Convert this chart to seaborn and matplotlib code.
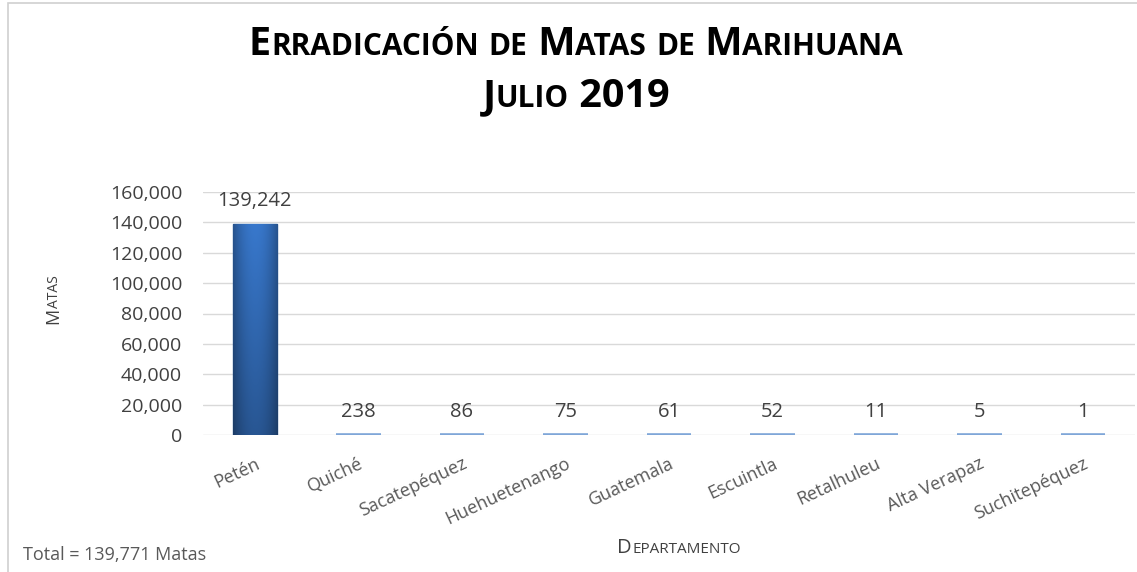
import matplotlib
matplotlib.use('Agg')
import matplotlib.pyplot as plt
from matplotlib.font_manager import FontProperties
from matplotlib.patches import Rectangle
import seaborn as sb
import numpy as np

departamentos = ['Petén', 'Quiché', 'Sacatepéquez', 'Huehuetenango', 'Guatemala',
                 'Escuintla', 'Retalhuleu', 'Alta Verapaz', 'Suchitepéquez']
matas = [139242, 238, 86, 75, 61, 52, 11, 5, 1]
yticks = [0, 20000, 40000, 60000, 80000, 100000, 120000, 140000, 160000]
titulo = ['Erradicación de Matas de Marihuana', 'Julio 2019']
total_txt = 'Total = 139,771 Matas'

FONT = 'Open Sans'
W, H = 1137, 572

sb.set_style('white')
plt.rcParams['font.family'] = [FONT, 'DejaVu Sans']

fig = plt.figure(figsize=(W / 100, H / 100), dpi=100)
ax = fig.add_axes([203 / W, 1 - 435 / H, 932 / W, 243 / H])

sb.barplot(x=departamentos, y=matas, color='#3473BA', width=0.43, ax=ax,
           edgecolor='#7FA6D8', linewidth=2.6, zorder=3)

# gradient fill on the big bar, clipped to the bar
for p in ax.patches:
    x0, y0 = p.get_x(), p.get_y()
    w, h = p.get_width(), p.get_height()
    if h < 1000:
        continue
    p.set_edgecolor('#2A5E9E')
    p.set_linewidth(1)
    gx = np.linspace(-1, 1, 60)
    gy = np.linspace(0, 1, 60)
    horiz = 1 - 0.3 * gx ** 2
    vert = 0.72 + 0.28 * gy
    shade = np.outer(vert, horiz)
    base = np.array([0.22, 0.47, 0.80])
    img = np.clip(shade[..., None] * base[None, None, :], 0, 1)
    im = ax.imshow(img, extent=[x0, x0 + w, y0, y0 + h], origin='lower',
                   aspect='auto', zorder=4)
    im.set_clip_path(p)

for i, v in enumerate(matas):
    ax.annotate(f'{v:,}', (i, v), xytext=(0, 9), textcoords='offset points',
                ha='center', va='bottom', fontsize=14.5, color='#404040',
                annotation_clip=False, zorder=5)

ax.set_xlim(-0.5, len(departamentos) - 0.5)
ax.set_ylim(0, 160000)
ax.set_yticks(yticks)
ax.set_yticklabels([f'{t:,}' for t in yticks], fontsize=14, color='#404040')
ax.tick_params(axis='y', length=0, pad=15)
ax.tick_params(axis='x', length=0, pad=14)
for lab in ax.get_xticklabels():
    lab.set_rotation(25)
    lab.set_ha('right')
    lab.set_rotation_mode('anchor')
    lab.set_fontsize(13)
    lab.set_color('#595959')
ax.yaxis.grid(True, color='#d9d9d9', linewidth=1, zorder=0)
ax.set_axisbelow(True)
for s in ax.spines.values():
    s.set_visible(False)
ax.set_xlabel('')
ax.set_ylabel('')

# outer chart border
fig.patches.append(Rectangle((8 / W, -0.05), 1.2, 1 - 3 / H + 0.05, transform=fig.transFigure,
                             fill=False, edgecolor='#d0d0d0', linewidth=1.2))

renderer = fig.canvas.get_renderer()


def text_width(s, size, weight):
    prop = FontProperties(family=FONT, size=size, weight=weight)
    wa = renderer.get_text_width_height_descent('|' + s + '|', prop, ismath=False)[0]
    wb = renderer.get_text_width_height_descent('||', prop, ismath=False)[0]
    return wa - wb


def split_runs(s):
    runs = []
    for ch in s:
        is_big = not ch.islower()
        if runs and runs[-1][1] == is_big:
            runs[-1][0] += ch.upper()
        else:
            runs.append([ch.upper(), is_big])
    return runs


def small_caps(xc, yb, s, big, small, weight='normal', color='black', rotation=0):
    runs = split_runs(s)
    widths = [text_width(t, big if b else small, weight) for t, b in runs]
    pos = -sum(widths) / 2
    for (t, b), wd in zip(runs, widths):
        if rotation == 0:
            px, py = xc + pos, yb
        else:
            px, py = xc, yb - pos
        fig.text(px / W, 1 - py / H, t, fontsize=big if b else small, fontweight=weight,
                 color=color, ha='left', va='baseline', rotation=rotation,
                 rotation_mode='anchor')
        pos += wd


small_caps(576, 55, titulo[0], 28.5, 21.5, weight='bold')
small_caps(576, 107, titulo[1], 28.5, 21.5, weight='bold')
small_caps(679, 553, 'Departamento', 14.5, 11, color='#404040')
small_caps(58, 300, 'Matas', 13, 10, color='#404040', rotation=90)
fig.text(23 / W, 1 - 555 / H, total_txt, fontsize=13, color='#595959',
         ha='left', va='center')

fig.savefig('out.png', dpi=100)
